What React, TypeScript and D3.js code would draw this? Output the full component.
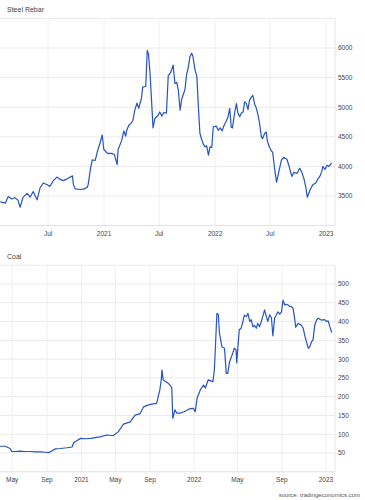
import * as d3 from "d3";

// Steel Rebar (CNY/T)
const steelDates = [
  "2020-01-26", "2020-02-12", "2020-02-21", "2020-03-04", "2020-03-14", "2020-03-24", "2020-03-31",
  "2020-04-10", "2020-04-23", "2020-05-03", "2020-05-13", "2020-05-26", "2020-06-05", "2020-06-15",
  "2020-06-28", "2020-07-07", "2020-07-17", "2020-07-30", "2020-08-10", "2020-08-20", "2020-09-02",
  "2020-09-12", "2020-09-19", "2020-09-22", "2020-09-28", "2020-10-15", "2020-10-28", "2020-11-07",
  "2020-11-10", "2020-11-17", "2020-11-23", "2020-12-03", "2020-12-10", "2020-12-19", "2020-12-26",
  "2020-12-31", "2021-01-12", "2021-01-25", "2021-02-04", "2021-02-13", "2021-02-16", "2021-02-28",
  "2021-03-07", "2021-03-13", "2021-03-17", "2021-03-24", "2021-03-30", "2021-04-06", "2021-04-12",
  "2021-04-19", "2021-04-25", "2021-05-04", "2021-05-08", "2021-05-18", "2021-05-23", "2021-05-27",
  "2021-06-01", "2021-06-06", "2021-06-11", "2021-06-17", "2021-06-27", "2021-07-03", "2021-07-10",
  "2021-07-16", "2021-07-25", "2021-07-31", "2021-08-05", "2021-08-11", "2021-08-16", "2021-08-22",
  "2021-08-28", "2021-09-02", "2021-09-08", "2021-09-13", "2021-09-18", "2021-09-24", "2021-09-29",
  "2021-10-05", "2021-10-10", "2021-10-16", "2021-10-20", "2021-10-27", "2021-11-02", "2021-11-07",
  "2021-11-12", "2021-11-18", "2021-11-23", "2021-11-29", "2021-12-04", "2021-12-10", "2021-12-15",
  "2021-12-21", "2021-12-26", "2022-01-05", "2022-01-11", "2022-01-18", "2022-01-24", "2022-01-31",
  "2022-02-06", "2022-02-12", "2022-02-18", "2022-02-23", "2022-02-27", "2022-03-06", "2022-03-12",
  "2022-03-17", "2022-03-23", "2022-03-28", "2022-04-03", "2022-04-08", "2022-04-14", "2022-04-19",
  "2022-04-24", "2022-04-30", "2022-05-05", "2022-05-11", "2022-05-16", "2022-05-22", "2022-05-27",
  "2022-06-02", "2022-06-06", "2022-06-13", "2022-06-18", "2022-06-22", "2022-06-29", "2022-07-05",
  "2022-07-09", "2022-07-16", "2022-07-22", "2022-07-29", "2022-08-07", "2022-08-15", "2022-08-25",
  "2022-08-31", "2022-09-10", "2022-09-17", "2022-09-27", "2022-10-06", "2022-10-13", "2022-10-20",
  "2022-10-26", "2022-10-31", "2022-11-09", "2022-11-18", "2022-11-28", "2022-12-05", "2022-12-11",
  "2022-12-18", "2022-12-21", "2022-12-28", "2023-01-04", "2023-01-10", "2023-01-19",
];
const steelPrices = [
  3400, 3380, 3490, 3450, 3470, 3430, 3310,
  3480, 3545, 3480, 3575, 3435, 3640, 3720,
  3690, 3660, 3750, 3820, 3780, 3760, 3790,
  3820, 3840, 3700, 3620, 3610, 3620, 3650,
  3700, 3950, 4110, 4100, 4250, 4400, 4530,
  4290, 4220, 4220, 4200, 4030, 4280, 4440,
  4600, 4510, 4620, 4700, 4720, 4780, 4950,
  5070, 4980, 5155, 5340, 5350, 5960, 5900,
  5580, 5120, 4650, 4810, 4860, 4920, 4850,
  4910, 4900, 5540, 5560, 5630, 5710, 5400,
  5420, 5290, 4950, 5130, 5210, 5300, 5540,
  5680, 5850, 5910, 5860, 5630, 5520, 5010,
  4560, 4450, 4380, 4330, 4350, 4190, 4330,
  4320, 4670, 4680, 4610, 4650, 4600, 4700,
  4760, 4830, 4980, 4660, 4650, 4900, 5060,
  4900, 4840, 4900, 4920, 5090, 5060, 4960,
  5120, 5170, 5200, 5050, 4990, 4870, 4730,
  4500, 4470, 4560, 4580, 4420, 4320, 4260,
  4240, 3940, 3735, 3900, 4110, 4150, 4120,
  4020, 3830, 3900, 3880, 3970, 3900, 3790,
  3650, 3480, 3600, 3690, 3720, 3790, 3830,
  3920, 4000, 3950, 4020, 4000, 4060,
];
const steelYTicks = [3500, 4000, 4500, 5000, 5500, 6000];
const steelGridTop = 6500;
const steelXTicks = ["2020-07-01", "2021-01-01", "2021-07-01", "2022-01-01", "2022-07-01", "2023-01-01"];
const steelXLabels = ["Jul", "2021", "Jul", "2022", "Jul", "2023"];

// Coal (USD/T)
const coalDates = [
  "2020-03-19", "2020-04-06", "2020-04-24", "2020-04-30", "2020-05-11", "2020-05-29", "2020-06-16",
  "2020-07-04", "2020-07-21", "2020-08-09", "2020-08-27", "2020-09-07", "2020-09-20", "2020-10-01",
  "2020-10-18", "2020-11-11", "2020-11-29", "2020-12-05", "2020-12-14", "2020-12-29", "2021-01-16",
  "2021-02-03", "2021-02-19", "2021-03-08", "2021-04-01", "2021-04-23", "2021-05-12", "2021-05-18",
  "2021-05-30", "2021-06-23", "2021-07-10", "2021-07-28", "2021-08-09", "2021-08-27", "2021-09-06",
  "2021-09-19", "2021-09-28", "2021-10-02", "2021-10-04", "2021-10-07", "2021-10-15", "2021-10-21",
  "2021-10-31", "2021-11-03", "2021-11-09", "2021-11-14", "2021-11-23", "2021-12-04", "2021-12-11",
  "2021-12-20", "2021-12-30", "2022-01-04", "2022-01-09", "2022-01-18", "2022-01-27", "2022-02-01",
  "2022-02-09", "2022-02-16", "2022-02-22", "2022-02-26", "2022-03-03", "2022-03-05", "2022-03-09",
  "2022-03-12", "2022-03-19", "2022-03-26", "2022-03-31", "2022-04-04", "2022-04-09", "2022-04-18",
  "2022-04-22", "2022-04-27", "2022-04-29", "2022-05-02", "2022-05-06", "2022-05-11", "2022-05-16",
  "2022-05-20", "2022-05-25", "2022-05-30", "2022-06-04", "2022-06-08", "2022-06-13", "2022-06-17",
  "2022-06-22", "2022-06-26", "2022-07-01", "2022-07-06", "2022-07-10", "2022-07-15", "2022-07-20",
  "2022-07-24", "2022-07-29", "2022-08-03", "2022-08-07", "2022-08-12", "2022-08-17", "2022-08-21",
  "2022-08-26", "2022-08-31", "2022-09-04", "2022-09-09", "2022-09-14", "2022-09-18", "2022-09-23",
  "2022-09-27", "2022-10-02", "2022-10-07", "2022-10-09", "2022-10-16", "2022-10-25", "2022-10-30",
  "2022-11-04", "2022-11-08", "2022-11-13", "2022-11-17", "2022-11-22", "2022-11-26", "2022-12-01",
  "2022-12-06", "2022-12-10", "2022-12-19", "2022-12-28", "2023-01-03", "2023-01-07", "2023-01-12",
  "2023-01-17",
];
const coalPrices = [
  68, 68, 62, 54, 54, 55, 54,
  54, 53, 53, 52, 51, 56, 61,
  62, 64, 66, 78, 82, 89, 88,
  89, 91, 93, 98, 96, 107, 114,
  127, 133, 151, 155, 173, 178, 180,
  182, 218, 245, 271, 245, 240, 236,
  225, 142, 165, 156, 156, 160, 163,
  168, 169, 160, 196, 218, 231, 223,
  245, 242, 240, 271, 378, 422, 418,
  369, 333, 329, 262, 262, 293, 316,
  329, 325, 290, 330, 378, 382, 400,
  417, 413, 422, 400, 405, 386, 390,
  382, 395, 386, 400, 413, 431, 413,
  400, 418, 410, 362, 410, 418, 426,
  420, 426, 457, 444, 446, 444, 440,
  440, 435, 404, 385, 395, 390, 382,
  360, 346, 329, 333, 346, 351, 391,
  404, 409, 404, 405, 400, 402, 385,
  371,
];
const coalYTicks = [50, 100, 150, 200, 250, 300, 350, 400, 450, 500];
const coalGridTop = 550;
const coalXTicks = [
  "2020-05-01", "2020-09-01", "2021-01-01", "2021-05-01", "2021-09-01",
  "2022-01-01", "2022-05-01", "2022-09-01", "2023-01-01",
];
const coalXLabels = ["May", "Sep", "2021", "May", "Sep", "2022", "May", "Sep", "2023"];

const parse = d3.timeParse("%Y-%m-%d");
const W = 365;
const H = 500;
const plotRight = 335;
const font = "Liberation Sans, Arial, sans-serif";

interface PanelProps {
  title: string;
  top: number;
  bottom: number;
  x: d3.ScaleTime<number, number>;
  yDomain: [number, number];
  yTicks: number[];
  xTicks: string[];
  xLabels: string[];
  dates: string[];
  values: number[];
}

function Panel({ title, top, bottom, x, yDomain, yTicks, xTicks, xLabels, dates, values }: PanelProps) {
  const y = d3.scaleLinear().domain(yDomain).range([bottom, top]);
  const points = dates.map((d, i) => ({ date: parse(d) as Date, value: values[i] }));
  const line = d3
    .line<{ date: Date; value: number }>()
    .x((d) => x(d.date))
    .y((d) => y(d.value));

  return (
    <g>
      <text x={7} y={top - 6} fontSize={7} fill="#444" fontFamily={font}>
        {title}
      </text>
      {/* horizontal grid */}
      {[...yTicks, yDomain[1]].map((t) => (
        <line key={"h" + t} x1={0} x2={plotRight} y1={y(t)} y2={y(t)} stroke="#ebebeb" strokeWidth={1} />
      ))}
      {/* vertical grid */}
      {xTicks.map((t) => {
        const px = x(parse(t) as Date);
        return <line key={"v" + t} x1={px} x2={px} y1={top} y2={bottom} stroke="#f0f0f0" strokeWidth={1} />;
      })}
      <line x1={plotRight} x2={plotRight} y1={top} y2={bottom} stroke="#e6e6e6" />
      <line x1={0} x2={plotRight} y1={bottom} y2={bottom} stroke="#e0e0e0" />
      <path d={line(points) || ""} fill="none" stroke="#2553c4" strokeWidth={1.2} strokeLinejoin="round" />
      {yTicks.map((t) => (
        <text key={"yl" + t} x={338} y={y(t) + 2.4} fontSize={6.5} fill="#444" fontFamily={font}>
          {t}
        </text>
      ))}
      {xTicks.map((t, i) => (
        <text
          key={"xl" + t}
          x={x(parse(t) as Date)}
          y={bottom + 10}
          fontSize={6.5}
          fill="#444"
          textAnchor="middle"
          fontFamily={font}
        >
          {xLabels[i]}
        </text>
      ))}
    </g>
  );
}

export default function App() {
  const steelX = d3
    .scaleTime()
    .domain([new Date(2020, 0, 25), new Date(2023, 0, 30)])
    .range([0, plotRight]);

  // the source chart spaces observations, so the sparser 2020-21 stretch is compressed
  const coalX = d3
    .scaleTime()
    .domain([new Date(2020, 2, 19), new Date(2021, 8, 1), new Date(2023, 0, 26)])
    .range([0, plotRight * 0.448, plotRight]);

  return (
    <svg width={W} height={H} style={{ position: "absolute", left: 0, top: 0, background: "#fff" }}>
      <Panel
        title="Steel Rebar"
        top={18.4}
        bottom={225.6}
        x={steelX}
        yDomain={[3000, steelGridTop]}
        yTicks={steelYTicks}
        xTicks={steelXTicks}
        xLabels={steelXLabels}
        dates={steelDates}
        values={steelPrices}
      />
      <Panel
        title="Coal"
        top={265.2}
        bottom={471.8}
        x={coalX}
        yDomain={[0, coalGridTop]}
        yTicks={coalYTicks}
        xTicks={coalXTicks}
        xLabels={coalXLabels}
        dates={coalDates}
        values={coalPrices}
      />
      <text x={360} y={497} fontSize={6} fill="#555" textAnchor="end" fontFamily={font}>
        source: tradingeconomics.com
      </text>
    </svg>
  );
}
